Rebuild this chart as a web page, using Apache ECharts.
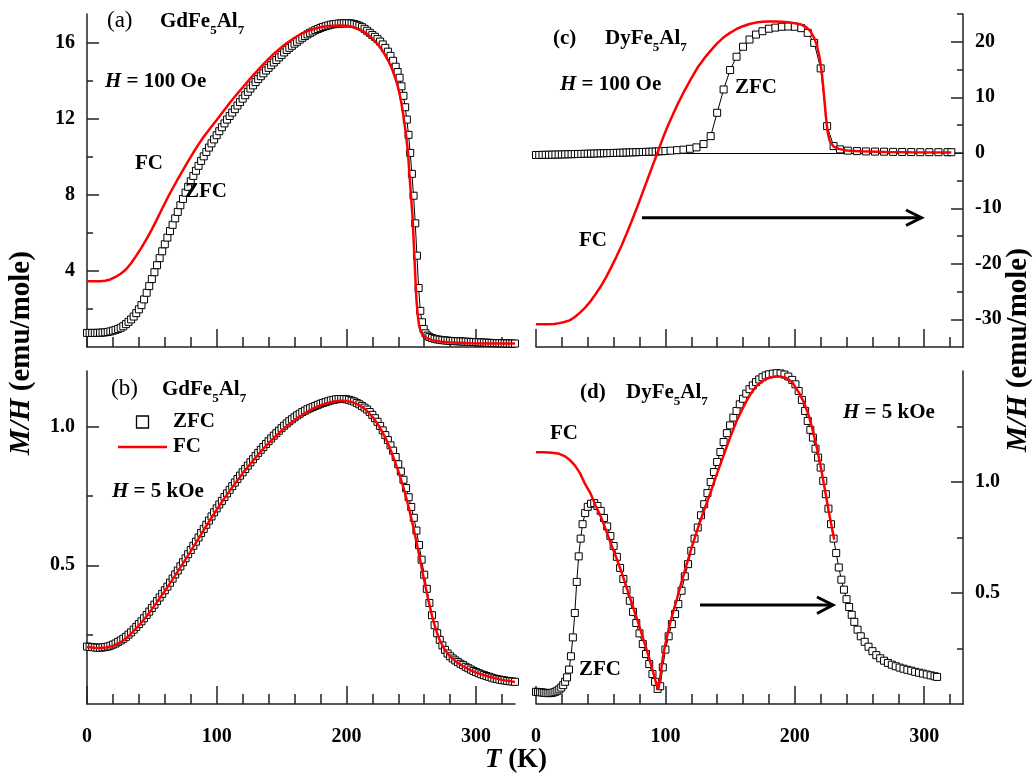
<!DOCTYPE html>
<html><head><meta charset="utf-8">
<script src="https://cdn.jsdelivr.net/npm/echarts@6/dist/echarts.min.js"></script>
<style>html,body{margin:0;padding:0;background:#fff}#c{width:1035px;height:778px}</style>
</head><body><div id="c"></div>
<script>
// ---------- DATA ----------
// (a) GdFe5Al7, H = 100 Oe  [T (K), M/H]
const gdLowZFC = [[0,0.74],[2,0.74],[4,0.74],[6,0.74],[8,0.745],[10,0.75],[12,0.76],[14,0.77],[16,0.79],[18,0.82],[20,0.86],[22,0.9],[24,0.95],[26,1.01],[28,1.09],[30,1.2],[32,1.32],[34,1.45],[36,1.6],[38,1.78],[40,1.98],[42,2.2],[44,2.5],[46,2.85],[48,3.2],[50,3.57],[52,3.93],[54,4.3],[56,4.67],[58,5.03],[60,5.4],[62,5.75],[64,6.09],[66,6.42],[68,6.76],[70,7.1],[72,7.45],[74,7.78],[76,8.11],[78,8.42],[80,8.71],[82,8.99],[84,9.26],[86,9.52],[88,9.78],[90,10.02],[92,10.25],[94,10.48],[96,10.7],[98,10.91],[100,11.13],[102,11.34],[104,11.55],[106,11.75],[108,11.95],[110,12.14],[112,12.32],[114,12.5],[116,12.69],[118,12.87],[120,13.05],[122,13.23],[124,13.41],[126,13.58],[128,13.75],[130,13.92],[132,14.08],[134,14.23],[136,14.38],[138,14.53],[140,14.67],[142,14.81],[144,14.95],[146,15.08],[148,15.22],[150,15.35],[152,15.48],[154,15.61],[156,15.72],[158,15.83],[160,15.94],[162,16.04],[164,16.15],[166,16.25],[168,16.34],[170,16.43],[172,16.51],[174,16.58],[176,16.65],[178,16.71],[180,16.77],[182,16.82],[184,16.86],[186,16.9],[188,16.94],[190,16.96],[192,16.98],[194,17.0],[196,17.0],[198,17.01],[200,17.01],[202,17.01],[204,17.0],[206,16.97],[208,16.93],[210,16.88],[212,16.81],[214,16.72],[216,16.62],[218,16.51],[220,16.4],[222,16.3],[224,16.18],[226,16.05],[228,15.9],[230,15.72],[232,15.52],[234,15.3],[236,15.04],[238,14.73],[239.5,14.45],[241,14.15],[242.5,13.7],[244,13.2],[245.3,12.6],[246.6,11.95],[247.9,11.15],[249.2,10.2],[250.5,9.1],[251.8,7.95],[253.1,6.5],[254.4,4.8],[255.7,3.1],[257,1.9],[258.3,1.3],[259.6,0.95],[261,0.72],[262.5,0.6],[264,0.53],[266,0.47],[268,0.43],[270,0.4],[272,0.38],[274,0.36],[276,0.345],[278,0.335],[280,0.32],[282,0.315],[284,0.305],[286,0.3],[288,0.295],[290,0.287],[292,0.28],[294,0.273],[296,0.267],[298,0.26],[300,0.253],[302,0.247],[304,0.24],[306,0.233],[308,0.227],[310,0.22],[312,0.213],[314,0.207],[316,0.2],[318,0.2],[320,0.195],[322,0.19],[324,0.19],[326,0.185],[328,0.18],[330,0.18]];
const gdLowFC = [[0,3.45],[5,3.45],[10,3.46],[14,3.48],[18,3.55],[22,3.68],[26,3.85],[30,4.07],[34,4.4],[38,4.8],[42,5.22],[46,5.68],[50,6.18],[54,6.72],[58,7.28],[62,7.82],[66,8.33],[70,8.82],[74,9.3],[78,9.77],[82,10.22],[86,10.65],[90,11.05],[95,11.5],[100,11.93],[105,12.38],[110,12.82],[115,13.24],[120,13.64],[125,14.04],[130,14.42],[135,14.79],[140,15.14],[145,15.47],[150,15.76],[155,16.02],[160,16.25],[165,16.45],[170,16.6],[175,16.72],[180,16.8],[185,16.86],[190,16.88],[195,16.89],[200,16.88],[205,16.82],[210,16.7],[215,16.5],[220,16.22],[225,15.85],[229,15.44],[232,15.08],[235,14.65],[238,14.08],[240,13.6],[242,12.98],[244,12.15],[246,11.15],[247.5,10.2],[249,8.7],[250,7.8],[251,6.84],[252,5.4],[253,3.9],[254,2.5],[255,1.7],[256,1.14],[257.5,0.8],[259,0.62],[262,0.47],[266,0.36],[272,0.29],[281,0.23],[295,0.2],[310,0.19],[330,0.18]];

// (b) GdFe5Al7, H = 5 kOe
const gdHighZFC = [[0,0.207],[2,0.206],[4,0.205],[6,0.204],[8,0.203],[10,0.203],[12,0.204],[14,0.205],[16,0.207],[18,0.21],[20,0.214],[22,0.218],[24,0.224],[26,0.229],[28,0.235],[30,0.242],[32,0.25],[34,0.258],[36,0.268],[38,0.278],[40,0.288],[42,0.298],[44,0.309],[46,0.321],[48,0.333],[50,0.346],[52,0.358],[54,0.371],[56,0.384],[58,0.397],[60,0.41],[62,0.423],[64,0.437],[66,0.452],[68,0.467],[70,0.481],[72,0.496],[74,0.511],[76,0.525],[78,0.54],[80,0.555],[82,0.57],[84,0.585],[86,0.6],[88,0.616],[90,0.631],[92,0.646],[94,0.661],[96,0.676],[98,0.691],[100,0.705],[102,0.719],[104,0.732],[106,0.746],[108,0.759],[110,0.772],[112,0.785],[114,0.798],[116,0.811],[118,0.823],[120,0.835],[122,0.847],[124,0.859],[126,0.871],[128,0.882],[130,0.894],[132,0.905],[134,0.916],[136,0.926],[138,0.937],[140,0.947],[142,0.957],[144,0.967],[146,0.976],[148,0.985],[150,0.994],[152,1.003],[154,1.011],[156,1.019],[158,1.026],[160,1.033],[162,1.04],[164,1.046],[166,1.052],[168,1.057],[170,1.062],[172,1.066],[174,1.07],[176,1.074],[178,1.078],[180,1.082],[182,1.085],[184,1.088],[186,1.091],[188,1.094],[190,1.096],[192,1.098],[194,1.099],[196,1.099],[198,1.099],[200,1.098],[202,1.096],[204,1.093],[206,1.09],[208,1.085],[210,1.08],[212,1.074],[214,1.068],[216,1.061],[218,1.052],[220,1.042],[222,1.03],[224,1.017],[226,1.002],[228,0.986],[230,0.969],[232,0.951],[234,0.932],[236,0.913],[238,0.89],[240,0.864],[242,0.838],[244,0.808],[246,0.778],[248,0.745],[250,0.71],[252,0.671],[254,0.625],[256,0.573],[258,0.52],[260,0.466],[262,0.415],[264,0.364],[266,0.32],[268,0.284],[270,0.255],[272,0.231],[274,0.211],[276,0.195],[278,0.182],[280,0.172],[282,0.164],[284,0.157],[286,0.151],[288,0.145],[290,0.14],[292,0.134],[294,0.129],[296,0.124],[298,0.119],[300,0.115],[302,0.111],[304,0.107],[306,0.104],[308,0.101],[310,0.098],[312,0.095],[314,0.092],[316,0.09],[318,0.088],[320,0.086],[322,0.085],[324,0.083],[326,0.082],[328,0.081],[330,0.08]];
const gdHighFC = [[0,0.205],[5,0.203],[10,0.202],[15,0.204],[20,0.209],[25,0.22],[30,0.236],[35,0.258],[40,0.283],[45,0.311],[50,0.341],[55,0.374],[60,0.407],[65,0.442],[70,0.478],[75,0.514],[80,0.551],[85,0.589],[90,0.627],[95,0.664],[100,0.7],[105,0.735],[110,0.768],[115,0.8],[120,0.831],[125,0.86],[130,0.888],[135,0.915],[140,0.94],[145,0.963],[150,0.985],[155,1.005],[160,1.023],[165,1.039],[170,1.054],[175,1.066],[180,1.076],[185,1.084],[190,1.09],[195,1.093],[200,1.092],[205,1.087],[210,1.077],[215,1.06],[220,1.036],[225,1.003],[230,0.96],[235,0.905],[240,0.84],[244,0.78],[248,0.71],[251,0.65],[254,0.585],[257,0.515],[260,0.445],[263,0.378],[266,0.318],[269,0.268],[272,0.229],[276,0.194],[280,0.171],[285,0.151],[290,0.136],[295,0.123],[300,0.113],[310,0.098],[320,0.087],[330,0.079]];

// (c) DyFe5Al7, H = 100 Oe
const dyLowZFC = [[0,-0.4],[2.5,-0.4],[5,-0.38],[7.5,-0.37],[10,-0.36],[12.5,-0.35],[15,-0.33],[17.5,-0.32],[20,-0.3],[22.5,-0.29],[25,-0.27],[27.5,-0.26],[30,-0.24],[32.5,-0.22],[35,-0.21],[37.5,-0.19],[40,-0.17],[42.5,-0.16],[45,-0.14],[47.5,-0.12],[50,-0.1],[52.5,-0.09],[55,-0.07],[57.5,-0.05],[60,-0.03],[62.5,-0.02],[65,0.0],[67.5,0.02],[70,0.04],[72.5,0.06],[75,0.08],[77.5,0.1],[80,0.12],[82.5,0.14],[85,0.16],[87.5,0.18],[90,0.2],[92.5,0.22],[95,0.25],[97.5,0.28],[100,0.32],[104,0.38],[109,0.46],[114,0.56],[119,0.72],[124,0.97],[129.5,1.57],[135,3.0],[140,7.2],[145,11.4],[150,14.9],[155,17.3],[160,19.1],[165,20.4],[170,21.3],[175,21.9],[180,22.35],[185,22.55],[190,22.7],[195,22.75],[200,22.7],[205,22.45],[210,21.6],[215,19.8],[220,15.2],[225,4.8],[230,1.2],[235,0.6],[241,0.38],[248,0.3],[255,0.24],[262,0.21],[269,0.19],[276,0.16],[283,0.14],[290,0.12],[297,0.1],[304,0.1],[311,0.1],[318,0.1],[321,0.1]];
const dyLowFC = [[0,-30.9],[8,-30.9],[14,-30.85],[18,-30.7],[22,-30.5],[26,-30.2],[30,-29.6],[34,-28.8],[38,-27.9],[42,-26.8],[46,-25.5],[50,-24.1],[54,-22.5],[58,-20.7],[62,-18.8],[66,-16.8],[70,-14.6],[74,-12.3],[78,-9.9],[82,-7.4],[86,-4.9],[90,-2.4],[94,0.1],[98,2.6],[102,4.9],[106,7.0],[110,9.0],[115,11.3],[120,13.4],[125,15.4],[130,17.0],[135,18.4],[140,19.7],[145,20.8],[150,21.6],[155,22.3],[160,22.8],[165,23.2],[170,23.45],[175,23.6],[180,23.65],[185,23.65],[190,23.6],[195,23.5],[200,23.35],[205,23.1],[209,22.6],[212,21.9],[215,20.7],[217,19.4],[219,17.4],[221,14.2],[222.5,10.5],[224,6.6],[225.5,3.6],[227,2.1],[230,1.1],[234,0.7],[240,0.4],[250,0.25],[270,0.15],[290,0.1],[321,0.05]];

// (d) DyFe5Al7, H = 5 kOe
const dyHighZFC = [[0,0.055],[1.5,0.054],[3,0.053],[4.5,0.052],[6,0.051],[7.5,0.05],[9,0.049],[10.5,0.049],[12,0.05],[13.5,0.052],[15,0.055],[16.5,0.06],[18,0.066],[19.5,0.074],[21,0.085],[22.5,0.1],[24,0.12],[25.5,0.155],[27,0.215],[28.5,0.3],[30,0.41],[31.5,0.55],[33,0.665],[34.5,0.745],[36,0.81],[38,0.86],[40,0.888],[42.5,0.902],[45,0.905],[47.5,0.892],[50,0.87],[52.5,0.838],[55,0.8],[57.5,0.757],[60,0.712],[62.5,0.663],[65,0.613],[67.5,0.563],[70,0.513],[72.5,0.465],[75,0.415],[77.5,0.365],[80,0.318],[82.5,0.27],[85,0.225],[87.5,0.18],[90,0.135],[92,0.1],[94,0.068],[96,0.08],[98,0.165],[100,0.245],[102.5,0.305],[105,0.36],[107.5,0.405],[110,0.45],[112.5,0.51],[115,0.575],[117.5,0.63],[120,0.69],[122.5,0.745],[125,0.795],[127.5,0.85],[130,0.9],[132.5,0.95],[135,1.0],[137.5,1.045],[140,1.09],[142.5,1.135],[145,1.18],[147.5,1.22],[150,1.255],[152.5,1.29],[155,1.32],[157.5,1.35],[160,1.375],[162.5,1.398],[165,1.418],[167.5,1.435],[170,1.45],[172.5,1.462],[175,1.472],[177.5,1.48],[180,1.485],[183,1.488],[186,1.49],[189,1.489],[192,1.484],[195,1.475],[198,1.46],[200.5,1.44],[203,1.41],[205.5,1.37],[208,1.32],[210,1.275],[212,1.235],[214,1.2],[216,1.15],[218,1.11],[220,1.065],[222,1.005],[224,0.945],[226,0.88],[228,0.81],[230,0.745],[232,0.68],[234,0.615],[236,0.56],[238,0.515],[240,0.472],[242,0.437],[244,0.402],[246,0.37],[248.5,0.335],[251,0.305],[254,0.28],[257,0.258],[260,0.238],[263,0.22],[266,0.206],[269,0.195],[272,0.185],[275,0.177],[278,0.17],[281,0.164],[284,0.159],[287,0.154],[290,0.15],[293,0.145],[296,0.141],[299,0.137],[302,0.133],[305,0.129],[308,0.125],[310,0.122]];
const dyHighFC = [[0,1.134],[5,1.134],[10,1.133],[14,1.131],[18,1.127],[22,1.117],[26,1.1],[30,1.075],[34,1.04],[38,0.99],[42,0.95],[46,0.895],[50,0.845],[54,0.785],[58,0.72],[62,0.66],[66,0.595],[70,0.525],[74,0.455],[78,0.385],[82,0.31],[86,0.235],[90,0.155],[93,0.09],[94.5,0.065],[96,0.12],[98,0.21],[100,0.27],[103,0.35],[106,0.415],[109,0.475],[112,0.54],[116,0.62],[120,0.7],[125,0.79],[130,0.875],[135,0.955],[140,1.04],[145,1.12],[150,1.2],[155,1.275],[160,1.335],[165,1.39],[170,1.43],[175,1.455],[180,1.47],[187,1.477],[193,1.47],[198,1.45],[203,1.405],[207,1.36],[211,1.295],[214,1.23],[217,1.155],[220,1.07],[223,0.975],[226,0.875],[228.5,0.8],[230.5,0.74]];

// tick values
const tMajor = [0, 100, 200, 300];
const tMinor = [20, 40, 60, 80, 120, 140, 160, 180, 220, 240, 260, 280, 320];
const aMajor = [4, 8, 12, 16];
const aMinor = [2, 6, 10, 14];
const bMajor = [0.5, 1.0];
const bMinor = [0.25, 0.75];
const cMajor = [-30, -20, -10, 0, 10, 20];
const cMinor = [-25, -15, -5, 5, 15, 25];
const dMajor = [0.5, 1.0];
const dMinor = [0.25, 0.75, 1.25];

// ---------- LAYOUT ----------
const FONT = "'Liberation Serif','Times New Roman',serif";
const AX = '#222';
const grids = [
  {left: 87, top: 14, width: 428, height: 333},
  {left: 87, top: 371, width: 428, height: 333},
  {left: 536, top: 14, width: 427, height: 333},
  {left: 536, top: 371, width: 427, height: 333}
];
const lblStyle = {fontFamily: FONT, fontSize: 20, fontWeight: 'bold', color: '#000'};

function xPair(g, labels) {
  return [
    {type: 'value', gridIndex: g, position: 'bottom', min: 0, max: 330,
     axisLine: {show: true, onZero: false, lineStyle: {color: AX, width: 1.5}},
     axisTick: {show: true, inside: true, length: 18, customValues: tMajor, lineStyle: {color: AX, width: 1.5}},
     axisLabel: Object.assign({show: labels, customValues: tMajor, margin: 23}, lblStyle),
     splitLine: {show: false}},
    {type: 'value', gridIndex: g, position: 'bottom', min: 0, max: 330,
     axisLine: {show: false, onZero: false},
     axisTick: {show: true, inside: true, length: 10, customValues: tMinor, lineStyle: {color: AX, width: 1.5}},
     axisLabel: {show: false}, splitLine: {show: false}}
  ];
}
function yPair(g, pos, min, max, major, minor, fmt) {
  return [
    {type: 'value', gridIndex: g, position: pos, min: min, max: max,
     axisLine: {show: true, onZero: false, lineStyle: {color: AX, width: 1.5}},
     axisTick: {show: true, inside: true, length: 12, customValues: major, lineStyle: {color: AX, width: 1.5}},
     axisLabel: Object.assign({show: true, customValues: major, margin: 12, formatter: fmt}, lblStyle),
     splitLine: {show: false}},
    {type: 'value', gridIndex: g, position: pos, min: min, max: max,
     axisLine: {show: false, onZero: false},
     axisTick: {show: true, inside: true, length: 6, customValues: minor, lineStyle: {color: AX, width: 1.5}},
     axisLabel: {show: false}, splitLine: {show: false}}
  ];
}
const f0 = v => String(v);
const f1 = v => Number(v).toFixed(1);

const xAxis = [].concat(xPair(0, false), xPair(1, true), xPair(2, false), xPair(3, true));
// zero reference line in panel (c)
xAxis.push({type: 'value', gridIndex: 2, position: 'bottom', min: 0, max: 330,
  axisLine: {show: true, onZero: true, lineStyle: {color: '#000', width: 1}},
  axisTick: {show: false}, axisLabel: {show: false}, splitLine: {show: false}});
const yAxis = [].concat(
  yPair(0, 'left', 0, 17.5, aMajor, aMinor, f0),
  yPair(1, 'left', 0, 1.2, bMajor, bMinor, f1),
  yPair(2, 'right', -35, 25, cMajor, cMinor, f0),
  yPair(3, 'right', 0, 1.5, dMajor, dMinor, f1)
);

function zfc(idx, data) {
  return {type: 'line', xAxisIndex: idx * 2, yAxisIndex: idx * 2, data: data,
    symbol: 'rect', symbolSize: 7, showAllSymbol: true,
    itemStyle: {color: '#fff', borderColor: '#000', borderWidth: 1},
    lineStyle: {color: '#000', width: 1}, z: 2, animation: false};
}
function fc(idx, data) {
  return {type: 'line', xAxisIndex: idx * 2, yAxisIndex: idx * 2, data: data,
    symbol: 'none', lineStyle: {color: '#ff0000', width: 2.5}, z: 3, animation: false};
}

// ---------- ANNOTATIONS ----------
const R = {
  b: {fontFamily: FONT, fontSize: 21, fontWeight: 'bold', fill: '#000', color: '#000', lineHeight: 30},
  n: {fontFamily: FONT, fontSize: 23, fontWeight: 'normal', fill: '#000', color: '#000', lineHeight: 30},
  i: {fontFamily: FONT, fontSize: 21, fontWeight: 'bold', fontStyle: 'italic', fill: '#000', color: '#000', lineHeight: 30},
  s: {fontFamily: FONT, fontSize: 13, fontWeight: 'bold', fill: '#000', color: '#000', lineHeight: 14, verticalAlign: 'bottom'},
  T: {fontFamily: FONT, fontSize: 27, fontWeight: 'bold', fill: '#000', color: '#000', lineHeight: 32},
  TI: {fontFamily: FONT, fontSize: 27, fontWeight: 'bold', fontStyle: 'italic', fill: '#000', color: '#000', lineHeight: 32},
  Y: {fontFamily: FONT, fontSize: 29, fontWeight: 'bold', fill: '#000', color: '#000', lineHeight: 34},
  YI: {fontFamily: FONT, fontSize: 29, fontWeight: 'bold', fontStyle: 'italic', fill: '#000', color: '#000', lineHeight: 34}
};
function txt(x, y, text, align, rot) {
  return {type: 'text', x: x, y: y, rotation: rot || 0, z: 100, silent: true,
    style: {text: text, rich: R, align: align || 'left', verticalAlign: 'middle',
            textAlign: align || 'left', textVerticalAlign: 'middle', fill: '#000'}};
}
const gd = '{b|GdFe}{s|5}{b|Al}{s|7}';
const dy = '{b|DyFe}{s|5}{b|Al}{s|7}';
const graphic = [
  txt(107, 21, '{n|(a)}'), txt(160, 22, gd), txt(105, 82, '{i|H}{b| = 100 Oe}'),
  txt(135, 164, '{b|FC}'), txt(185, 192, '{b|ZFC}'),
  txt(111, 389, '{n|(b)}'), txt(162, 390, gd),
  txt(173, 422, '{b|ZFC}'), txt(173, 447, '{b|FC}'),
  txt(112, 492, '{i|H}{b| = 5 kOe}'),
  txt(553, 39, '{b|(c)}'), txt(605, 39, dy), txt(560, 85, '{i|H}{b| = 100 Oe}'),
  txt(735, 88, '{b|ZFC}'), txt(579, 241, '{b|FC}'),
  txt(580, 393, '{b|(d)}'), txt(626, 393, dy),
  txt(550, 434, '{b|FC}'), txt(579, 670, '{b|ZFC}'), txt(843, 413, '{i|H}{b| = 5 kOe}'),
  txt(22, 353, '{YI|M/H}{Y| (emu/mole)}', 'center', Math.PI / 2),
  txt(1019, 350, '{YI|M/H}{Y| (emu/mole)}', 'center', Math.PI / 2),
  txt(516, 760, '{TI|T}{T| (K)}', 'center'),
  // legend of panel (b)
  {type: 'rect', z: 100, shape: {x: 136.5, y: 416, width: 12, height: 12}, style: {fill: '#fff', stroke: '#000', lineWidth: 1.3}},
  {type: 'line', z: 100, shape: {x1: 118, y1: 447, x2: 167, y2: 447}, style: {stroke: '#ff0000', lineWidth: 2.5}},
  // arrows pointing to right axes
  {type: 'line', z: 100, shape: {x1: 642, y1: 217.7, x2: 920, y2: 217.7}, style: {stroke: '#000', lineWidth: 3}},
  {type: 'polyline', z: 100, shape: {points: [[906, 210], [921.5, 217.7], [906, 225.5]]}, style: {stroke: '#000', lineWidth: 3, fill: null}},
  {type: 'line', z: 100, shape: {x1: 700, y1: 605, x2: 832, y2: 605}, style: {stroke: '#000', lineWidth: 3}},
  {type: 'polyline', z: 100, shape: {points: [[817, 597], [833, 605], [817, 613.5]]}, style: {stroke: '#000', lineWidth: 3, fill: null}}
];

const chart = echarts.init(document.getElementById('c'), null, {renderer: 'canvas'});
chart.setOption({
  backgroundColor: '#fff',
  animation: false,
  grid: grids,
  xAxis: xAxis,
  yAxis: yAxis,
  series: [
    zfc(0, gdLowZFC), fc(0, gdLowFC),
    zfc(1, gdHighZFC), fc(1, gdHighFC),
    zfc(2, dyLowZFC), fc(2, dyLowFC),
    zfc(3, dyHighZFC), fc(3, dyHighFC)
  ],
  graphic: graphic
});
</script></body></html>
